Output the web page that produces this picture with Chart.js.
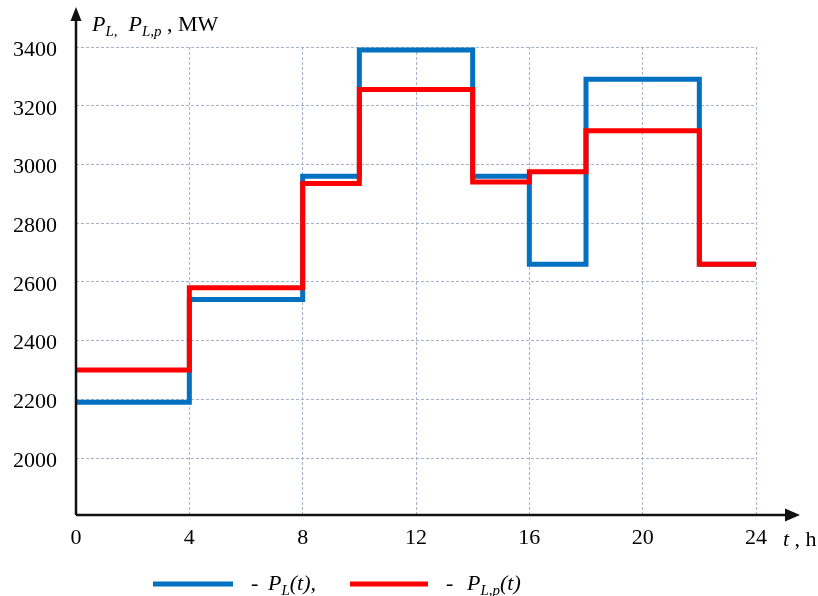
<!DOCTYPE html>
<html>
<head>
<meta charset="utf-8">
<script src="https://cdn.jsdelivr.net/npm/chart.js@4"></script>
<style>
  html, body { margin: 0; padding: 0; background: #fff; }
  canvas { display: block; }
</style>
</head>
<body>
<canvas id="loadChart" width="818" height="596"></canvas>
<script>
// Step points (hour where each level starts) and load levels, MW
const hours = [0, 4, 8, 10, 14, 16, 18, 22, 24];
const loadPL = [2190, 2540, 2960, 3390, 2960, 2660, 3290, 2660, 2660];
const loadPLp = [2300, 2580, 2935, 3255, 2940, 2975, 3115, 2660, 2660];

// Tick labels
const xTicks = [0, 4, 8, 12, 16, 20, 24];
const yTicks = [2000, 2200, 2400, 2600, 2800, 3000, 3200, 3400];

const SERIF = '"Liberation Serif", "Times New Roman", serif';
const gridColor = '#a3b4cc';

// draws pieces of text one after another (italic / subscript)
function richText(ctx, x, y, parts) {
  parts.forEach(p => {
    const size = p.sub ? 15 : 22;
    ctx.font = (p.italic ? 'italic ' : '') + size + 'px ' + SERIF;
    ctx.fillText(p.text, x, y + (p.sub ? 5 : 0));
    x += ctx.measureText(p.text).width;
  });
}

const axesAndText = {
  id: 'axesAndText',
  afterDraw(chart) {
    const ctx = chart.ctx;
    const ca = chart.chartArea;
    ctx.save();
    ctx.strokeStyle = '#111';
    ctx.fillStyle = '#111';
    ctx.lineWidth = 2.5;
    // y axis with arrow
    ctx.beginPath();
    ctx.moveTo(ca.left, ca.bottom);
    ctx.lineTo(ca.left, 20);
    ctx.stroke();
    ctx.beginPath();
    ctx.moveTo(ca.left, 7);
    ctx.lineTo(ca.left - 5.5, 21);
    ctx.lineTo(ca.left + 5.5, 21);
    ctx.closePath();
    ctx.fill();
    // x axis with arrow
    ctx.beginPath();
    ctx.moveTo(ca.left, ca.bottom);
    ctx.lineTo(787, ca.bottom);
    ctx.stroke();
    ctx.beginPath();
    ctx.moveTo(800, ca.bottom);
    ctx.lineTo(785, ca.bottom - 6.5);
    ctx.lineTo(785, ca.bottom + 6.5);
    ctx.closePath();
    ctx.fill();

    ctx.fillStyle = '#000';
    ctx.textBaseline = 'alphabetic';
    ctx.textAlign = 'left';
    // axis titles
    richText(ctx, 92, 31, [
      { text: 'P', italic: true }, { text: 'L,', italic: true, sub: true },
      { text: '  ' },
      { text: 'P', italic: true }, { text: 'L,p', italic: true, sub: true },
      { text: ' , MW' }
    ]);
    richText(ctx, 783, 546, [
      { text: 't', italic: true }, { text: ' , h' }
    ]);

    // legend
    ctx.lineWidth = 5;
    ctx.strokeStyle = '#0070C0';
    ctx.beginPath(); ctx.moveTo(153, 584); ctx.lineTo(233, 584); ctx.stroke();
    ctx.strokeStyle = '#FF0000';
    ctx.beginPath(); ctx.moveTo(350, 584); ctx.lineTo(428, 584); ctx.stroke();
    richText(ctx, 251, 590, [{ text: '-' }]);
    richText(ctx, 268, 590, [
      { text: 'P', italic: true }, { text: 'L', italic: true, sub: true },
      { text: '(t),', italic: true }
    ]);
    richText(ctx, 446, 590, [{ text: '-' }]);
    richText(ctx, 467, 590, [
      { text: 'P', italic: true }, { text: 'L,p', italic: true, sub: true },
      { text: '(t)', italic: true }
    ]);
    ctx.restore();
  }
};

const ctx = document.getElementById('loadChart').getContext('2d');
new Chart(ctx, {
  type: 'line',
  data: {
    datasets: [
      {
        label: 'P_L(t)',
        data: hours.map((h, i) => ({ x: h, y: loadPL[i] })),
        borderColor: '#0070C0',
        borderWidth: 5,
        stepped: true,
        pointRadius: 0,
        fill: false,
        order: 2
      },
      {
        label: 'P_L,p(t)',
        data: hours.map((h, i) => ({ x: h, y: loadPLp[i] })),
        borderColor: '#FF0000',
        borderWidth: 5,
        stepped: true,
        pointRadius: 0,
        fill: false,
        order: 1
      }
    ]
  },
  options: {
    responsive: false,
    animation: false,
    devicePixelRatio: 1,
    layout: { padding: { top: 47, right: 62, left: 0, bottom: 0 } },
    plugins: {
      legend: { display: false },
      tooltip: { enabled: false },
      title: { display: false }
    },
    scales: {
      x: {
        type: 'linear',
        min: 0,
        max: 24,
        afterBuildTicks: s => { s.ticks = xTicks.map(v => ({ value: v })); },
        afterFit: s => { s.height = 81; },
        grid: { color: gridColor, lineWidth: 1, drawTicks: false },
        border: { display: false, dash: [3, 2] },
        ticks: { color: '#000', font: { family: SERIF, size: 22 }, padding: 10, maxRotation: 0, autoSkip: false }
      },
      y: {
        min: 1806,
        max: 3400,
        afterBuildTicks: s => { s.ticks = yTicks.map(v => ({ value: v })); },
        afterFit: s => { s.width = 76; },
        grid: { color: gridColor, lineWidth: 1, drawTicks: false },
        border: { display: false, dash: [3, 2] },
        ticks: {
          color: '#000',
          font: { family: SERIF, size: 22 },
          padding: 19,
          labelOffset: 3,
          callback: v => String(v)
        }
      }
    }
  },
  plugins: [axesAndText]
});
</script>
</body>
</html>
